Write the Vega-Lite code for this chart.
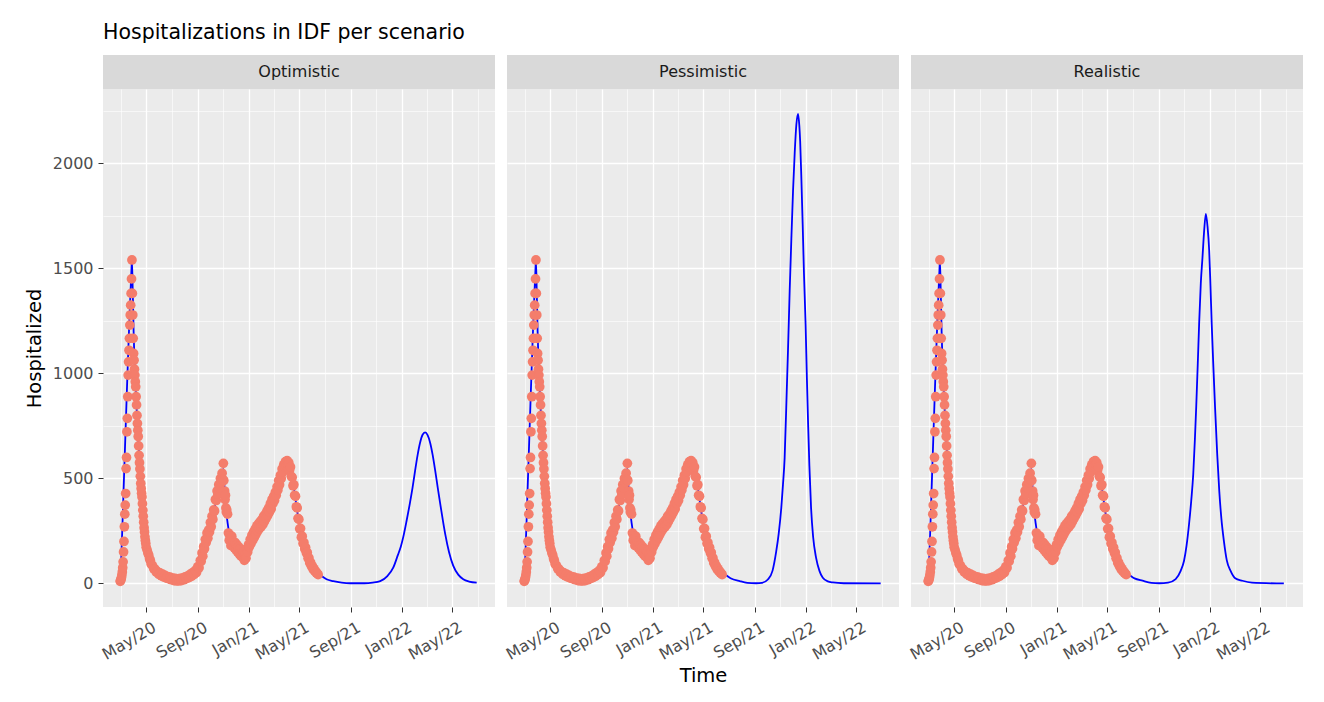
{
  "$schema": "https://vega.github.io/schema/vega-lite/v6.json",
  "background": "white",
  "padding": {"left": 24, "top": 22, "right": 5, "bottom": 5},
  "title": {"text": "Hospitalizations in IDF per scenario", "anchor": "start", "frame": "group", "font": "DejaVu Sans", "fontSize": 20.5, "fontWeight": "normal", "color": "#000000", "offset": 12},
  "datasets": {
    "obs": [
      {"d":"2020-02-29","v":10},{"d":"2020-03-01","v":14},{"d":"2020-03-02","v":20},{"d":"2020-03-03","v":28},{"d":"2020-03-04","v":40},{"d":"2020-03-05","v":55},{"d":"2020-03-06","v":75},{"d":"2020-03-07","v":103},{"d":"2020-03-08","v":150},{"d":"2020-03-09","v":200},{"d":"2020-03-10","v":270},{"d":"2020-03-11","v":330},{"d":"2020-03-12","v":373},{"d":"2020-03-13","v":428},{"d":"2020-03-14","v":547},{"d":"2020-03-15","v":600},{"d":"2020-03-16","v":722},{"d":"2020-03-17","v":786},{"d":"2020-03-18","v":889},{"d":"2020-03-19","v":992},{"d":"2020-03-20","v":1055},{"d":"2020-03-21","v":1110},{"d":"2020-03-22","v":1167},{"d":"2020-03-23","v":1230},{"d":"2020-03-24","v":1278},{"d":"2020-03-25","v":1325},{"d":"2020-03-26","v":1381},{"d":"2020-03-27","v":1450},{"d":"2020-03-28","v":1540},{"d":"2020-03-29","v":1381},{"d":"2020-03-30","v":1278},{"d":"2020-03-31","v":1167},{"d":"2020-04-01","v":1095},{"d":"2020-04-02","v":1063},{"d":"2020-04-03","v":1020},{"d":"2020-04-04","v":992},{"d":"2020-04-05","v":960},{"d":"2020-04-06","v":936},{"d":"2020-04-07","v":889},{"d":"2020-04-08","v":850},{"d":"2020-04-09","v":800},{"d":"2020-04-10","v":762},{"d":"2020-04-11","v":730},{"d":"2020-04-12","v":700},{"d":"2020-04-13","v":655},{"d":"2020-04-14","v":610},{"d":"2020-04-15","v":575},{"d":"2020-04-16","v":545},{"d":"2020-04-17","v":510},{"d":"2020-04-18","v":476},{"d":"2020-04-19","v":452},{"d":"2020-04-20","v":430},{"d":"2020-04-21","v":412},{"d":"2020-04-22","v":380},{"d":"2020-04-23","v":349},{"d":"2020-04-24","v":320},{"d":"2020-04-25","v":292},{"d":"2020-04-26","v":265},{"d":"2020-04-27","v":245},{"d":"2020-04-28","v":222},{"d":"2020-04-29","v":205},{"d":"2020-04-30","v":190},{"d":"2020-05-01","v":172},
      {"d":"2020-05-03","v":160},{"d":"2020-05-05","v":145},{"d":"2020-05-07","v":135},{"d":"2020-05-09","v":118},{"d":"2020-05-11","v":108},{"d":"2020-05-13","v":92},{"d":"2020-05-16","v":85},{"d":"2020-05-19","v":70},{"d":"2020-05-22","v":68},{"d":"2020-05-25","v":54},{"d":"2020-05-28","v":56},{"d":"2020-05-31","v":44},{"d":"2020-06-03","v":50},{"d":"2020-06-06","v":36},{"d":"2020-06-09","v":44},{"d":"2020-06-12","v":30},{"d":"2020-06-15","v":38},{"d":"2020-06-18","v":26},{"d":"2020-06-21","v":33},{"d":"2020-06-24","v":22},{"d":"2020-06-27","v":30},{"d":"2020-06-30","v":18},{"d":"2020-07-03","v":26},{"d":"2020-07-06","v":14},{"d":"2020-07-09","v":24},{"d":"2020-07-12","v":12},{"d":"2020-07-15","v":22},{"d":"2020-07-18","v":12},{"d":"2020-07-21","v":24},{"d":"2020-07-24","v":14},{"d":"2020-07-27","v":26},{"d":"2020-07-30","v":18},{"d":"2020-08-02","v":32},{"d":"2020-08-05","v":24},{"d":"2020-08-08","v":36},{"d":"2020-08-11","v":28},{"d":"2020-08-14","v":44},{"d":"2020-08-17","v":34},{"d":"2020-08-20","v":52},{"d":"2020-08-23","v":42},{"d":"2020-08-26","v":62},{"d":"2020-08-29","v":52},{"d":"2020-09-01","v":80},{"d":"2020-09-04","v":75},{"d":"2020-09-07","v":110},{"d":"2020-09-09","v":105},{"d":"2020-09-11","v":145},{"d":"2020-09-13","v":130},{"d":"2020-09-15","v":175},{"d":"2020-09-17","v":165},{"d":"2020-09-19","v":210},{"d":"2020-09-21","v":195},{"d":"2020-09-23","v":240},{"d":"2020-09-25","v":215},{"d":"2020-09-27","v":255},{"d":"2020-09-29","v":245},{"d":"2020-10-01","v":290},{"d":"2020-10-03","v":270},{"d":"2020-10-05","v":320},{"d":"2020-10-07","v":305},{"d":"2020-10-09","v":350},{"d":"2020-10-11","v":345},{"d":"2020-10-13","v":400},{"d":"2020-10-15","v":395},{"d":"2020-10-17","v":440},{"d":"2020-10-19","v":425},{"d":"2020-10-21","v":470},{"d":"2020-10-23","v":455},{"d":"2020-10-25","v":500},{"d":"2020-10-27","v":480},{"d":"2020-10-29","v":525},{"d":"2020-10-31","v":495},{"d":"2020-11-01","v":572},{"d":"2020-11-02","v":490},{"d":"2020-11-04","v":440},{"d":"2020-11-05","v":400},{"d":"2020-11-06","v":420},{"d":"2020-11-07","v":360},{"d":"2020-11-08","v":340},{"d":"2020-11-09","v":350},{"d":"2020-11-11","v":330},{"d":"2020-11-13","v":240},{"d":"2020-11-15","v":205},{"d":"2020-11-17","v":215},{"d":"2020-11-19","v":180},{"d":"2020-11-21","v":225},{"d":"2020-11-23","v":185},{"d":"2020-11-25","v":200},{"d":"2020-11-27","v":170},{"d":"2020-11-29","v":195},{"d":"2020-12-01","v":160},{"d":"2020-12-03","v":185},{"d":"2020-12-05","v":150},{"d":"2020-12-07","v":175},{"d":"2020-12-09","v":140},{"d":"2020-12-11","v":165},{"d":"2020-12-13","v":130},{"d":"2020-12-15","v":160},{"d":"2020-12-17","v":125},{"d":"2020-12-19","v":150},{"d":"2020-12-21","v":110},{"d":"2020-12-23","v":140},{"d":"2020-12-25","v":120},{"d":"2020-12-27","v":165},{"d":"2020-12-29","v":150},{"d":"2020-12-31","v":185},
      {"d":"2021-01-02","v":175},{"d":"2021-01-04","v":210},{"d":"2021-01-06","v":190},{"d":"2021-01-08","v":230},{"d":"2021-01-10","v":205},{"d":"2021-01-12","v":245},{"d":"2021-01-14","v":220},{"d":"2021-01-16","v":260},{"d":"2021-01-18","v":235},{"d":"2021-01-20","v":275},{"d":"2021-01-22","v":250},{"d":"2021-01-24","v":285},{"d":"2021-01-26","v":262},{"d":"2021-01-28","v":295},{"d":"2021-01-30","v":270},{"d":"2021-02-01","v":305},{"d":"2021-02-03","v":280},{"d":"2021-02-05","v":320},{"d":"2021-02-07","v":295},{"d":"2021-02-09","v":330},{"d":"2021-02-11","v":310},{"d":"2021-02-13","v":345},{"d":"2021-02-15","v":325},{"d":"2021-02-17","v":360},{"d":"2021-02-19","v":340},{"d":"2021-02-21","v":380},{"d":"2021-02-23","v":355},{"d":"2021-02-25","v":400},{"d":"2021-02-27","v":380},{"d":"2021-03-01","v":415},{"d":"2021-03-03","v":395},{"d":"2021-03-05","v":435},{"d":"2021-03-07","v":420},{"d":"2021-03-09","v":460},{"d":"2021-03-11","v":445},{"d":"2021-03-13","v":490},{"d":"2021-03-15","v":470},{"d":"2021-03-17","v":515},{"d":"2021-03-19","v":500},{"d":"2021-03-21","v":545},{"d":"2021-03-23","v":530},{"d":"2021-03-25","v":565},{"d":"2021-03-27","v":555},{"d":"2021-03-29","v":580},{"d":"2021-03-31","v":560},{"d":"2021-04-02","v":585},{"d":"2021-04-04","v":565},{"d":"2021-04-06","v":575},{"d":"2021-04-08","v":540},{"d":"2021-04-10","v":555},{"d":"2021-04-12","v":510},{"d":"2021-04-14","v":505},{"d":"2021-04-16","v":465},{"d":"2021-04-18","v":470},{"d":"2021-04-20","v":420},{"d":"2021-04-22","v":415},{"d":"2021-04-24","v":365},{"d":"2021-04-26","v":360},{"d":"2021-04-28","v":310},{"d":"2021-04-30","v":305},{"d":"2021-05-02","v":260},{"d":"2021-05-04","v":262},{"d":"2021-05-06","v":220},{"d":"2021-05-08","v":225},{"d":"2021-05-10","v":190},{"d":"2021-05-12","v":195},{"d":"2021-05-14","v":165},{"d":"2021-05-16","v":172},{"d":"2021-05-18","v":145},{"d":"2021-05-20","v":148},{"d":"2021-05-22","v":120},{"d":"2021-05-24","v":122},{"d":"2021-05-26","v":98},{"d":"2021-05-28","v":100},{"d":"2021-05-30","v":82},{"d":"2021-06-01","v":84},{"d":"2021-06-03","v":68},{"d":"2021-06-05","v":70},{"d":"2021-06-07","v":58},{"d":"2021-06-09","v":58},{"d":"2021-06-11","v":50},{"d":"2021-06-13","v":48},{"d":"2021-06-15","v":42}
    ],
    "model": [
      {"d":"2020-02-28","s":"All","v":0},{"d":"2020-02-29","s":"All","v":10},{"d":"2020-03-04","s":"All","v":200},{"d":"2020-03-08","s":"All","v":440},{"d":"2020-03-12","s":"All","v":680},{"d":"2020-03-16","s":"All","v":920},{"d":"2020-03-20","s":"All","v":1150},{"d":"2020-03-24","s":"All","v":1360},{"d":"2020-03-27","s":"All","v":1500},{"d":"2020-03-28","s":"All","v":1540},{"d":"2020-03-30","s":"All","v":1380},{"d":"2020-04-01","s":"All","v":1200},{"d":"2020-04-04","s":"All","v":1020},{"d":"2020-04-07","s":"All","v":880},{"d":"2020-04-10","s":"All","v":760},{"d":"2020-04-13","s":"All","v":650},{"d":"2020-04-16","s":"All","v":550},{"d":"2020-04-19","s":"All","v":460},{"d":"2020-04-22","s":"All","v":380},{"d":"2020-04-25","s":"All","v":300},{"d":"2020-04-28","s":"All","v":235},{"d":"2020-05-01","s":"All","v":180},{"d":"2020-05-05","s":"All","v":135},{"d":"2020-05-09","s":"All","v":105},{"d":"2020-05-15","s":"All","v":80},{"d":"2020-05-21","s":"All","v":62},{"d":"2020-05-29","s":"All","v":48},{"d":"2020-06-10","s":"All","v":36},{"d":"2020-06-25","s":"All","v":26},{"d":"2020-07-10","s":"All","v":20},{"d":"2020-07-25","s":"All","v":20},{"d":"2020-08-09","s":"All","v":30},{"d":"2020-08-24","s":"All","v":50},{"d":"2020-09-03","s":"All","v":80},{"d":"2020-09-13","s":"All","v":140},{"d":"2020-09-23","s":"All","v":220},{"d":"2020-10-03","s":"All","v":290},{"d":"2020-10-13","s":"All","v":380},{"d":"2020-10-23","s":"All","v":470},{"d":"2020-10-29","s":"All","v":520},{"d":"2020-11-01","s":"All","v":545},{"d":"2020-11-04","s":"All","v":450},{"d":"2020-11-07","s":"All","v":360},{"d":"2020-11-11","s":"All","v":290},{"d":"2020-11-15","s":"All","v":240},{"d":"2020-11-21","s":"All","v":200},{"d":"2020-12-01","s":"All","v":175},{"d":"2020-12-13","s":"All","v":150},{"d":"2020-12-23","s":"All","v":140},{"d":"2021-01-02","s":"All","v":180},{"d":"2021-01-14","s":"All","v":235},{"d":"2021-01-26","s":"All","v":275},{"d":"2021-02-07","s":"All","v":305},{"d":"2021-02-19","s":"All","v":350},{"d":"2021-03-01","s":"All","v":390},{"d":"2021-03-11","s":"All","v":455},{"d":"2021-03-21","s":"All","v":525},{"d":"2021-03-29","s":"All","v":565},{"d":"2021-04-04","s":"All","v":570},{"d":"2021-04-10","s":"All","v":545},{"d":"2021-04-16","s":"All","v":480},{"d":"2021-04-22","s":"All","v":400},{"d":"2021-04-28","s":"All","v":320},{"d":"2021-05-06","s":"All","v":235},{"d":"2021-05-14","s":"All","v":175},{"d":"2021-05-22","s":"All","v":125},{"d":"2021-06-01","s":"All","v":80},{"d":"2021-06-11","s":"All","v":55},{"d":"2021-06-18","s":"All","v":45},
      {"d":"2021-06-25","s":"Optimistic","v":33},{"d":"2021-07-05","s":"Optimistic","v":20},{"d":"2021-07-21","s":"Optimistic","v":11},{"d":"2021-08-10","s":"Optimistic","v":4},{"d":"2021-08-30","s":"Optimistic","v":1},{"d":"2021-10-03","s":"Optimistic","v":1},{"d":"2021-10-23","s":"Optimistic","v":4},{"d":"2021-11-10","s":"Optimistic","v":11},{"d":"2021-11-27","s":"Optimistic","v":35},{"d":"2021-12-11","s":"Optimistic","v":75},{"d":"2021-12-22","s":"Optimistic","v":135},{"d":"2021-12-29","s":"Optimistic","v":175},{"d":"2022-01-04","s":"Optimistic","v":222},{"d":"2022-01-12","s":"Optimistic","v":300},{"d":"2022-01-20","s":"Optimistic","v":385},{"d":"2022-01-26","s":"Optimistic","v":455},{"d":"2022-02-01","s":"Optimistic","v":535},{"d":"2022-02-07","s":"Optimistic","v":610},{"d":"2022-02-13","s":"Optimistic","v":670},{"d":"2022-02-19","s":"Optimistic","v":708},{"d":"2022-02-25","s":"Optimistic","v":719},{"d":"2022-03-03","s":"Optimistic","v":706},{"d":"2022-03-09","s":"Optimistic","v":670},{"d":"2022-03-15","s":"Optimistic","v":612},{"d":"2022-03-21","s":"Optimistic","v":538},{"d":"2022-03-27","s":"Optimistic","v":458},{"d":"2022-04-02","s":"Optimistic","v":380},{"d":"2022-04-08","s":"Optimistic","v":305},{"d":"2022-04-14","s":"Optimistic","v":235},{"d":"2022-04-23","s":"Optimistic","v":150},{"d":"2022-05-03","s":"Optimistic","v":85},{"d":"2022-05-15","s":"Optimistic","v":42},{"d":"2022-05-27","s":"Optimistic","v":20},{"d":"2022-06-10","s":"Optimistic","v":9},{"d":"2022-06-28","s":"Optimistic","v":4},
      {"d":"2021-06-21","s":"Pessimistic","v":43},{"d":"2021-07-05","s":"Pessimistic","v":25},{"d":"2021-07-27","s":"Pessimistic","v":11},{"d":"2021-08-14","s":"Pessimistic","v":3},{"d":"2021-09-04","s":"Pessimistic","v":1},{"d":"2021-09-18","s":"Pessimistic","v":3},{"d":"2021-10-02","s":"Pessimistic","v":19},{"d":"2021-10-13","s":"Pessimistic","v":60},{"d":"2021-10-22","s":"Pessimistic","v":154},{"d":"2021-10-28","s":"Pessimistic","v":240},{"d":"2021-11-03","s":"Pessimistic","v":360},{"d":"2021-11-07","s":"Pessimistic","v":470},{"d":"2021-11-11","s":"Pessimistic","v":598},{"d":"2021-11-16","s":"Pessimistic","v":916},{"d":"2021-11-19","s":"Pessimistic","v":1110},{"d":"2021-11-23","s":"Pessimistic","v":1392},{"d":"2021-11-27","s":"Pessimistic","v":1640},{"d":"2021-12-01","s":"Pessimistic","v":1868},{"d":"2021-12-05","s":"Pessimistic","v":2050},{"d":"2021-12-09","s":"Pessimistic","v":2186},{"d":"2021-12-13","s":"Pessimistic","v":2236},{"d":"2021-12-16","s":"Pessimistic","v":2180},{"d":"2021-12-18","s":"Pessimistic","v":2106},{"d":"2021-12-21","s":"Pessimistic","v":1920},{"d":"2021-12-24","s":"Pessimistic","v":1710},{"d":"2021-12-27","s":"Pessimistic","v":1480},{"d":"2021-12-31","s":"Pessimistic","v":1233},{"d":"2022-01-03","s":"Pessimistic","v":980},{"d":"2022-01-06","s":"Pessimistic","v":757},{"d":"2022-01-09","s":"Pessimistic","v":560},{"d":"2022-01-13","s":"Pessimistic","v":360},{"d":"2022-01-18","s":"Pessimistic","v":220},{"d":"2022-01-25","s":"Pessimistic","v":122},{"d":"2022-02-02","s":"Pessimistic","v":60},{"d":"2022-02-10","s":"Pessimistic","v":27},{"d":"2022-02-22","s":"Pessimistic","v":10},{"d":"2022-03-06","s":"Pessimistic","v":5},{"d":"2022-04-01","s":"Pessimistic","v":1},{"d":"2022-06-28","s":"Pessimistic","v":0},
      {"d":"2021-06-21","s":"Realistic","v":42},{"d":"2021-07-05","s":"Realistic","v":24},{"d":"2021-07-24","s":"Realistic","v":13},{"d":"2021-08-14","s":"Realistic","v":3},{"d":"2021-09-02","s":"Realistic","v":1},{"d":"2021-09-23","s":"Realistic","v":4},{"d":"2021-10-11","s":"Realistic","v":21},{"d":"2021-10-23","s":"Realistic","v":60},{"d":"2021-10-31","s":"Realistic","v":108},{"d":"2021-11-06","s":"Realistic","v":180},{"d":"2021-11-12","s":"Realistic","v":283},{"d":"2021-11-17","s":"Realistic","v":390},{"d":"2021-11-22","s":"Realistic","v":521},{"d":"2021-11-26","s":"Realistic","v":690},{"d":"2021-11-29","s":"Realistic","v":838},{"d":"2021-12-03","s":"Realistic","v":1060},{"d":"2021-12-06","s":"Realistic","v":1235},{"d":"2021-12-10","s":"Realistic","v":1430},{"d":"2021-12-14","s":"Realistic","v":1552},{"d":"2021-12-18","s":"Realistic","v":1680},{"d":"2021-12-22","s":"Realistic","v":1759},{"d":"2021-12-26","s":"Realistic","v":1700},{"d":"2021-12-30","s":"Realistic","v":1584},{"d":"2022-01-02","s":"Realistic","v":1420},{"d":"2022-01-05","s":"Realistic","v":1235},{"d":"2022-01-09","s":"Realistic","v":1030},{"d":"2022-01-13","s":"Realistic","v":838},{"d":"2022-01-18","s":"Realistic","v":620},{"d":"2022-01-23","s":"Realistic","v":441},{"d":"2022-01-28","s":"Realistic","v":310},{"d":"2022-02-03","s":"Realistic","v":203},{"d":"2022-02-10","s":"Realistic","v":110},{"d":"2022-02-19","s":"Realistic","v":60},{"d":"2022-03-02","s":"Realistic","v":25},{"d":"2022-03-19","s":"Realistic","v":13},{"d":"2022-04-11","s":"Realistic","v":4},{"d":"2022-06-26","s":"Realistic","v":0}
    ]
  },
  "hconcat": [
    {
      "vconcat": [
        {"width": 392, "height": 34, "view": {"fill": "#d9d9d9", "stroke": null}, "data": {"values": [{"label": "Optimistic"}]}, "mark": {"type": "text", "font": "DejaVu Sans", "fontSize": 16, "color": "#1a1a1a"}, "encoding": {"text": {"field": "label", "type": "nominal"}}},
        {"width": 392, "height": 518,
          "layer": [
            {"data": {"name": "model"}, "transform": [{"filter": {"field": "s", "oneOf": ["All", "Optimistic"]}}],
              "mark": {"type": "line", "color": "#0000ff", "strokeWidth": 1.8, "interpolate": "monotone"},
              "encoding": {
                "x": {"field": "d", "type": "temporal", "scale": {"type": "utc", "domain": [{"year": 2020, "month": 1, "date": 19, "utc": true}, {"year": 2022, "month": 8, "date": 10, "hours": 16, "utc": true}]},
                  "axis": {"orient": "top", "values": [{"year": 2020, "month": 3, "date": 1, "utc": true}, {"year": 2020, "month": 7, "date": 1, "utc": true}, {"year": 2020, "month": 11, "date": 1, "utc": true}, {"year": 2021, "month": 3, "date": 1, "utc": true}, {"year": 2021, "month": 7, "date": 1, "utc": true}, {"year": 2021, "month": 11, "date": 1, "utc": true}, {"year": 2022, "month": 3, "date": 1, "utc": true}, {"year": 2022, "month": 7, "date": 1, "utc": true}], "grid": true, "gridColor": "#ffffff", "gridWidth": 0.6, "labels": false, "ticks": false, "domain": false, "title": null}},
                "y": {"field": "v", "type": "quantitative", "scale": {"domain": [-112, 2354], "nice": false, "zero": false},
                  "axis": {"orient": "right", "values": [250, 750, 1250, 1750, 2250], "grid": true, "gridColor": "#ffffff", "gridWidth": 0.6, "labels": false, "ticks": false, "domain": false, "title": null}}
              }},
            {"data": {"name": "obs"},
              "mark": {"type": "circle", "color": "#f47d6b", "size": 95, "opacity": 1},
              "encoding": {
                "x": {"field": "d", "type": "temporal", "scale": {"type": "utc", "domain": [{"year": 2020, "month": 1, "date": 19, "utc": true}, {"year": 2022, "month": 8, "date": 10, "hours": 16, "utc": true}]},
                  "axis": {"values": [{"year": 2020, "month": 5, "date": 1, "utc": true}, {"year": 2020, "month": 9, "date": 1, "utc": true}, {"year": 2021, "month": 1, "date": 1, "utc": true}, {"year": 2021, "month": 5, "date": 1, "utc": true}, {"year": 2021, "month": 9, "date": 1, "utc": true}, {"year": 2022, "month": 1, "date": 1, "utc": true}, {"year": 2022, "month": 5, "date": 1, "utc": true}], "format": "%b/%y", "labelAngle": -30, "labelAlign": "right", "labelBaseline": "top", "labelOffset": 4, "labelPadding": 7, "labelOverlap": false, "labelFlush": false, "tickSize": 5, "tickColor": "#333333", "labelColor": "#4d4d4d", "labelFontSize": 16, "labelFont": "DejaVu Sans", "grid": true, "gridColor": "#ffffff", "gridWidth": 1.3, "domain": false, "title": null}},
                "y": {"field": "v", "type": "quantitative", "scale": {"domain": [-112, 2354], "nice": false, "zero": false},
                  "axis": {"values": [0, 500, 1000, 1500, 2000], "format": "d", "grid": true, "gridColor": "#ffffff", "gridWidth": 1.3, "tickSize": 5, "tickColor": "#333333", "labelColor": "#4d4d4d", "labelFontSize": 16, "labelFont": "DejaVu Sans", "labelPadding": 5, "labelFlush": false, "domain": false, "title": "Hospitalized", "titleFont": "DejaVu Sans", "titleFontSize": 19.5, "titleFontWeight": "normal", "titleColor": "#000000", "titlePadding": 8}}
              }}
          ],
          "resolve": {"axis": {"x": "independent", "y": "independent"}}
        }
      ],
      "spacing": 0
    },
    {
      "vconcat": [
        {"width": 392, "height": 34, "view": {"fill": "#d9d9d9", "stroke": null}, "data": {"values": [{"label": "Pessimistic"}]}, "mark": {"type": "text", "font": "DejaVu Sans", "fontSize": 16, "color": "#1a1a1a"}, "encoding": {"text": {"field": "label", "type": "nominal"}}},
        {"width": 392, "height": 518,
          "layer": [
            {"data": {"name": "model"}, "transform": [{"filter": {"field": "s", "oneOf": ["All", "Pessimistic"]}}],
              "mark": {"type": "line", "color": "#0000ff", "strokeWidth": 1.8, "interpolate": "monotone"},
              "encoding": {
                "x": {"field": "d", "type": "temporal", "scale": {"type": "utc", "domain": [{"year": 2020, "month": 1, "date": 19, "utc": true}, {"year": 2022, "month": 8, "date": 10, "hours": 16, "utc": true}]},
                  "axis": {"orient": "top", "values": [{"year": 2020, "month": 3, "date": 1, "utc": true}, {"year": 2020, "month": 7, "date": 1, "utc": true}, {"year": 2020, "month": 11, "date": 1, "utc": true}, {"year": 2021, "month": 3, "date": 1, "utc": true}, {"year": 2021, "month": 7, "date": 1, "utc": true}, {"year": 2021, "month": 11, "date": 1, "utc": true}, {"year": 2022, "month": 3, "date": 1, "utc": true}, {"year": 2022, "month": 7, "date": 1, "utc": true}], "grid": true, "gridColor": "#ffffff", "gridWidth": 0.6, "labels": false, "ticks": false, "domain": false, "title": null}},
                "y": {"field": "v", "type": "quantitative", "scale": {"domain": [-112, 2354], "nice": false, "zero": false},
                  "axis": {"orient": "right", "values": [250, 750, 1250, 1750, 2250], "grid": true, "gridColor": "#ffffff", "gridWidth": 0.6, "labels": false, "ticks": false, "domain": false, "title": null}}
              }},
            {"data": {"name": "obs"},
              "mark": {"type": "circle", "color": "#f47d6b", "size": 95, "opacity": 1},
              "encoding": {
                "x": {"field": "d", "type": "temporal", "scale": {"type": "utc", "domain": [{"year": 2020, "month": 1, "date": 19, "utc": true}, {"year": 2022, "month": 8, "date": 10, "hours": 16, "utc": true}]},
                  "axis": {"values": [{"year": 2020, "month": 5, "date": 1, "utc": true}, {"year": 2020, "month": 9, "date": 1, "utc": true}, {"year": 2021, "month": 1, "date": 1, "utc": true}, {"year": 2021, "month": 5, "date": 1, "utc": true}, {"year": 2021, "month": 9, "date": 1, "utc": true}, {"year": 2022, "month": 1, "date": 1, "utc": true}, {"year": 2022, "month": 5, "date": 1, "utc": true}], "format": "%b/%y", "labelAngle": -30, "labelAlign": "right", "labelBaseline": "top", "labelOffset": 4, "labelPadding": 7, "labelOverlap": false, "labelFlush": false, "tickSize": 5, "tickColor": "#333333", "labelColor": "#4d4d4d", "labelFontSize": 16, "labelFont": "DejaVu Sans", "grid": true, "gridColor": "#ffffff", "gridWidth": 1.3, "domain": false, "title": "Time", "titleFont": "DejaVu Sans", "titleFontSize": 19.5, "titleFontWeight": "normal", "titleColor": "#000000", "titlePadding": 4}},
                "y": {"field": "v", "type": "quantitative", "scale": {"domain": [-112, 2354], "nice": false, "zero": false},
                  "axis": {"values": [0, 500, 1000, 1500, 2000], "grid": true, "gridColor": "#ffffff", "gridWidth": 1.3, "labels": false, "ticks": false, "domain": false, "title": null}}
              }}
          ],
          "resolve": {"axis": {"x": "independent", "y": "independent"}}
        }
      ],
      "spacing": 0
    },
    {
      "vconcat": [
        {"width": 392, "height": 34, "view": {"fill": "#d9d9d9", "stroke": null}, "data": {"values": [{"label": "Realistic"}]}, "mark": {"type": "text", "font": "DejaVu Sans", "fontSize": 16, "color": "#1a1a1a"}, "encoding": {"text": {"field": "label", "type": "nominal"}}},
        {"width": 392, "height": 518,
          "layer": [
            {"data": {"name": "model"}, "transform": [{"filter": {"field": "s", "oneOf": ["All", "Realistic"]}}],
              "mark": {"type": "line", "color": "#0000ff", "strokeWidth": 1.8, "interpolate": "monotone"},
              "encoding": {
                "x": {"field": "d", "type": "temporal", "scale": {"type": "utc", "domain": [{"year": 2020, "month": 1, "date": 19, "utc": true}, {"year": 2022, "month": 8, "date": 10, "hours": 16, "utc": true}]},
                  "axis": {"orient": "top", "values": [{"year": 2020, "month": 3, "date": 1, "utc": true}, {"year": 2020, "month": 7, "date": 1, "utc": true}, {"year": 2020, "month": 11, "date": 1, "utc": true}, {"year": 2021, "month": 3, "date": 1, "utc": true}, {"year": 2021, "month": 7, "date": 1, "utc": true}, {"year": 2021, "month": 11, "date": 1, "utc": true}, {"year": 2022, "month": 3, "date": 1, "utc": true}, {"year": 2022, "month": 7, "date": 1, "utc": true}], "grid": true, "gridColor": "#ffffff", "gridWidth": 0.6, "labels": false, "ticks": false, "domain": false, "title": null}},
                "y": {"field": "v", "type": "quantitative", "scale": {"domain": [-112, 2354], "nice": false, "zero": false},
                  "axis": {"orient": "right", "values": [250, 750, 1250, 1750, 2250], "grid": true, "gridColor": "#ffffff", "gridWidth": 0.6, "labels": false, "ticks": false, "domain": false, "title": null}}
              }},
            {"data": {"name": "obs"},
              "mark": {"type": "circle", "color": "#f47d6b", "size": 95, "opacity": 1},
              "encoding": {
                "x": {"field": "d", "type": "temporal", "scale": {"type": "utc", "domain": [{"year": 2020, "month": 1, "date": 19, "utc": true}, {"year": 2022, "month": 8, "date": 10, "hours": 16, "utc": true}]},
                  "axis": {"values": [{"year": 2020, "month": 5, "date": 1, "utc": true}, {"year": 2020, "month": 9, "date": 1, "utc": true}, {"year": 2021, "month": 1, "date": 1, "utc": true}, {"year": 2021, "month": 5, "date": 1, "utc": true}, {"year": 2021, "month": 9, "date": 1, "utc": true}, {"year": 2022, "month": 1, "date": 1, "utc": true}, {"year": 2022, "month": 5, "date": 1, "utc": true}], "format": "%b/%y", "labelAngle": -30, "labelAlign": "right", "labelBaseline": "top", "labelOffset": 4, "labelPadding": 7, "labelOverlap": false, "labelFlush": false, "tickSize": 5, "tickColor": "#333333", "labelColor": "#4d4d4d", "labelFontSize": 16, "labelFont": "DejaVu Sans", "grid": true, "gridColor": "#ffffff", "gridWidth": 1.3, "domain": false, "title": null}},
                "y": {"field": "v", "type": "quantitative", "scale": {"domain": [-112, 2354], "nice": false, "zero": false},
                  "axis": {"values": [0, 500, 1000, 1500, 2000], "grid": true, "gridColor": "#ffffff", "gridWidth": 1.3, "labels": false, "ticks": false, "domain": false, "title": null}}
              }}
          ],
          "resolve": {"axis": {"x": "independent", "y": "independent"}}
        }
      ],
      "spacing": 0
    }
  ],
  "spacing": 8,
  "config": {
    "font": "DejaVu Sans",
    "view": {"fill": "#ebebeb", "stroke": null}
  }
}
